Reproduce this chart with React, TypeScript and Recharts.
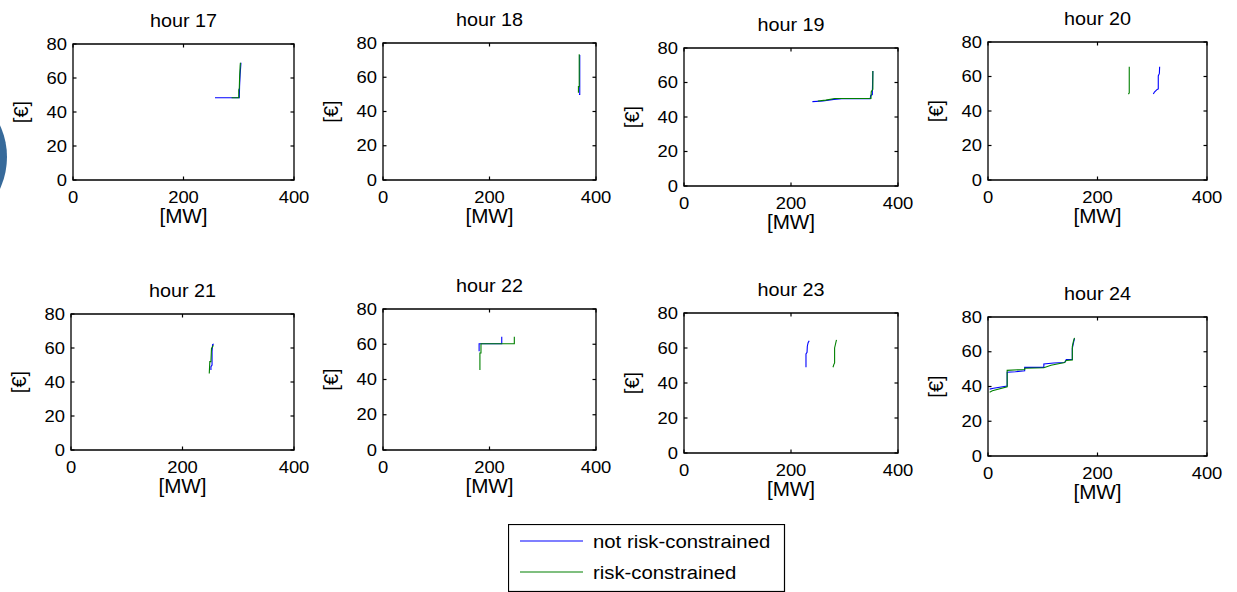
import React from 'react';
import { LineChart, Line, XAxis, YAxis, ReferenceArea } from 'recharts';

const FONT = '"Liberation Sans", Arial, Helvetica, sans-serif';

// ---------- data ----------
const hourTitles = ['hour 17', 'hour 18', 'hour 19', 'hour 20', 'hour 21', 'hour 22', 'hour 23', 'hour 24'];
const xTicks = [0, 200, 400];
const yTicks = [0, 20, 40, 60, 80];
const xLabel = '[MW]';
const yLabel = '[€]';
const seriesNames = ['not risk-constrained', 'risk-constrained'];

type Pt = { q: number; p: number };

const h17NotRisk: Pt[] = [
  { q: 257, p: 48.4 }, { q: 301, p: 48.4 }, { q: 301.5, p: 55 }, { q: 302.5, p: 62 }, { q: 304, p: 69 },
];
const h17Risk: Pt[] = [
  { q: 287, p: 48.4 }, { q: 300, p: 48.4 }, { q: 300, p: 53 }, { q: 301, p: 54 }, { q: 301.5, p: 60 }, { q: 302.5, p: 67 }, { q: 303, p: 69 },
];

const h18NotRisk: Pt[] = [
  { q: 368, p: 50 }, { q: 369.5, p: 50 }, { q: 369.5, p: 56 }, { q: 369.5, p: 73 },
];
const h18Risk: Pt[] = [
  { q: 367, p: 51 }, { q: 367, p: 54.5 }, { q: 368.5, p: 54.5 }, { q: 368.5, p: 73.5 },
];

const h19NotRisk: Pt[] = [
  { q: 240, p: 48.9 }, { q: 260, p: 49.3 }, { q: 280, p: 50.2 }, { q: 295, p: 50.6 }, { q: 348, p: 50.6 },
  { q: 349, p: 52.5 }, { q: 352, p: 53 }, { q: 352.5, p: 60 }, { q: 353, p: 66.7 },
];
const h19Risk: Pt[] = [
  { q: 250, p: 49.3 }, { q: 265, p: 49.8 }, { q: 282, p: 50.7 }, { q: 349.5, p: 50.7 }, { q: 350, p: 54.7 },
  { q: 353, p: 56 }, { q: 353, p: 66.7 },
];

const h20NotRisk: Pt[] = [
  { q: 302, p: 49.9 }, { q: 304, p: 51 }, { q: 309, p: 52.5 }, { q: 311, p: 52.8 }, { q: 311, p: 60.3 },
  { q: 313, p: 61.8 }, { q: 313.5, p: 65.7 },
];
const h20Risk: Pt[] = [
  { q: 256.5, p: 49.8 }, { q: 258, p: 50.5 }, { q: 258, p: 65.7 },
];

const h21NotRisk: Pt[] = [
  { q: 251, p: 47 }, { q: 251, p: 49 }, { q: 253, p: 50 }, { q: 253, p: 58 }, { q: 254, p: 62 }, { q: 256, p: 62.4 },
];
const h21Risk: Pt[] = [
  { q: 248, p: 45 }, { q: 249, p: 52 }, { q: 251, p: 52 }, { q: 252, p: 59.8 }, { q: 255, p: 61.3 }, { q: 255.5, p: 61.5 },
];

const h22NotRisk: Pt[] = [
  { q: 180.5, p: 56 }, { q: 180.5, p: 60.3 }, { q: 223, p: 60.3 }, { q: 223, p: 64.3 },
];
const h22Risk: Pt[] = [
  { q: 182, p: 45.4 }, { q: 182, p: 55 }, { q: 184, p: 55 }, { q: 184, p: 60.3 }, { q: 246.6, p: 60.3 }, { q: 246.6, p: 64.3 },
];

const h23NotRisk: Pt[] = [
  { q: 228, p: 49 }, { q: 228, p: 56.6 }, { q: 230, p: 57.5 }, { q: 230.5, p: 61 }, { q: 232, p: 63 }, { q: 234, p: 64.2 },
];
const h23Risk: Pt[] = [
  { q: 278.5, p: 49 }, { q: 280, p: 50.5 }, { q: 281.5, p: 51.5 }, { q: 281.5, p: 60 }, { q: 283, p: 62 }, { q: 285, p: 64.6 },
];

const h24NotRisk: Pt[] = [
  { q: 3, p: 38.5 }, { q: 10, p: 39 }, { q: 35, p: 40.3 }, { q: 35, p: 48.2 }, { q: 50, p: 48.5 }, { q: 67, p: 49 },
  { q: 67, p: 51 }, { q: 102, p: 51 }, { q: 102, p: 53 }, { q: 120, p: 53.5 }, { q: 140, p: 53.8 }, { q: 143, p: 55.5 },
  { q: 154, p: 55.6 }, { q: 154, p: 62 }, { q: 156, p: 65 }, { q: 158, p: 67.7 },
];
const h24Risk: Pt[] = [
  { q: 3, p: 36.7 }, { q: 8, p: 37.5 }, { q: 35, p: 39.8 }, { q: 35, p: 49.3 }, { q: 67, p: 49.8 }, { q: 67, p: 50.5 },
  { q: 102, p: 50.8 }, { q: 115, p: 52.2 }, { q: 140, p: 53.8 }, { q: 143, p: 55 }, { q: 154, p: 55.3 }, { q: 154, p: 63 },
  { q: 156, p: 66 }, { q: 158, p: 68 },
];

const notRiskSeries = [h17NotRisk, h18NotRisk, h19NotRisk, h20NotRisk, h21NotRisk, h22NotRisk, h23NotRisk, h24NotRisk];
const riskSeries = [h17Risk, h18Risk, h19Risk, h20Risk, h21Risk, h22Risk, h23Risk, h24Risk];

// ---------- layout / style ----------
const BLUE = '#0000ff';
const GREEN = '#008000';

const panelBoxes = [
  { left: 73, top: 44, right: 294, bottom: 180 },
  { left: 383, top: 43, right: 596, bottom: 180 },
  { left: 684, top: 48, right: 898, bottom: 186 },
  { left: 988, top: 42, right: 1207, bottom: 180 },
  { left: 71, top: 314, right: 294, bottom: 450 },
  { left: 383, top: 309, right: 596, bottom: 450 },
  { left: 684, top: 313, right: 898, bottom: 453 },
  { left: 988, top: 317, right: 1207, bottom: 456 },
];

const L = 62;
const T = 34;
const R = 26;
const B = 52;
const TICK_LEN = 3.5;

// font sizes with horizontal stretch (the reference text is slightly wide)
const TICK_FS = 16;
const TICK_SX = 1.15;
const TITLE_FS = 18;
const TITLE_SX = 1.1;
const LABEL_FS = 19.5;
const LABEL_SX = 1.06;
const LEGEND_FS = 19;
const LEGEND_SX = 1.07;

function SText(props: {
  x: number;
  y: number;
  fs: number;
  sx?: number;
  anchor?: 'start' | 'middle' | 'end';
  rotate?: number;
  dy?: string;
  children: React.ReactNode;
}) {
  const { x, y, fs, sx = 1, anchor = 'middle', rotate = 0, dy = '0.355em', children } = props;
  return (
    <text
      transform={`translate(${x},${y}) rotate(${rotate}) scale(${sx},1)`}
      x={0}
      y={0}
      dy={dy}
      textAnchor={anchor}
      fontSize={fs}
      fill="#000"
      style={{ fontFamily: FONT }}
    >
      {children}
    </text>
  );
}

function Panel({ idx }: { idx: number }) {
  const box = panelBoxes[idx];
  const pw = box.right - box.left;
  const ph = box.bottom - box.top;
  const width = pw + L + R;
  const height = ph + T + B;

  const XTick = (props: any) => {
    const { x, y, payload } = props;
    return (
      <g>
        <line x1={x} y1={y} x2={x} y2={y - TICK_LEN} stroke="#000" strokeWidth={1.2} />
        <line x1={x} y1={y - ph} x2={x} y2={y - ph + TICK_LEN} stroke="#000" strokeWidth={1.2} />
        <SText x={x} y={y + 17} fs={TICK_FS} sx={TICK_SX}>
          {payload.value}
        </SText>
      </g>
    );
  };

  const YTick = (props: any) => {
    const { x, y, payload } = props;
    return (
      <g>
        <line x1={x} y1={y} x2={x + TICK_LEN} y2={y} stroke="#000" strokeWidth={1.2} />
        <line x1={x + pw} y1={y} x2={x + pw - TICK_LEN} y2={y} stroke="#000" strokeWidth={1.2} />
        <SText x={x - 6} y={y} fs={TICK_FS} sx={TICK_SX} anchor="end">
          {payload.value}
        </SText>
      </g>
    );
  };

  const xLabelContent = () => (
    <SText x={L + pw / 2} y={T + ph + 36} fs={LABEL_FS} sx={LABEL_SX}>
      {xLabel}
    </SText>
  );

  const yLabelContent = () => (
    <SText x={L - 51} y={T + ph / 2} fs={20} rotate={-90} dy="0.3em">
      {yLabel}
    </SText>
  );

  const titleContent = () => (
    <SText x={L + pw / 2} y={T - 23.5} fs={TITLE_FS} sx={TITLE_SX}>
      {hourTitles[idx]}
    </SText>
  );

  return (
    <div style={{ position: 'absolute', left: box.left - L, top: box.top - T }}>
      <LineChart width={width} height={height} margin={{ top: T, right: R, bottom: 0, left: 0 }}>
        <XAxis
          dataKey="q"
          type="number"
          domain={[0, 400]}
          ticks={xTicks}
          interval={0}
          allowDataOverflow
          tickLine={false}
          axisLine={false}
          tickSize={0}
          tickMargin={0}
          height={B}
          tick={XTick}
          label={{ content: xLabelContent }}
        />
        <YAxis
          type="number"
          domain={[0, 80]}
          ticks={yTicks}
          interval={0}
          allowDataOverflow
          tickLine={false}
          axisLine={false}
          tickSize={0}
          tickMargin={0}
          width={L}
          tick={YTick}
          label={{ content: yLabelContent }}
        />
        <ReferenceArea
          x1={0}
          x2={400}
          y1={0}
          y2={80}
          fill="none"
          fillOpacity={0}
          stroke="#000"
          strokeWidth={1.3}
          ifOverflow="visible"
          label={{ content: titleContent }}
        />
        <Line
          data={notRiskSeries[idx]}
          dataKey="p"
          name={seriesNames[0]}
          type="linear"
          stroke={BLUE}
          strokeWidth={1.1}
          dot={false}
          activeDot={false}
          isAnimationActive={false}
        />
        <Line
          data={riskSeries[idx]}
          dataKey="p"
          name={seriesNames[1]}
          type="linear"
          stroke={GREEN}
          strokeWidth={1.1}
          dot={false}
          activeDot={false}
          isAnimationActive={false}
        />
      </LineChart>
    </div>
  );
}

function LegendBox() {
  const colors = [BLUE, GREEN];
  return (
    <svg width={278} height={68} style={{ position: 'absolute', left: 508, top: 524 }}>
      <rect x={0.5} y={0.5} width={276} height={67} fill="#fff" stroke="#000" strokeWidth={1.2} />
      {seriesNames.map((n, i) => (
        <g key={n}>
          <line x1={12} x2={75} y1={17 + i * 31} y2={17 + i * 31} stroke={colors[i]} strokeWidth={1.1} />
          <SText x={85} y={17 + i * 31} fs={LEGEND_FS} sx={LEGEND_SX} anchor="start">
            {n}
          </SText>
        </g>
      ))}
    </svg>
  );
}

export default function App() {
  return (
    <div
      style={{
        position: 'absolute',
        left: 0,
        top: 0,
        width: 1237,
        height: 592,
        background: '#fff',
        overflow: 'hidden',
        fontFamily: FONT,
      }}
    >
      <div
        style={{
          position: 'absolute',
          left: -145,
          top: 81,
          width: 152,
          height: 152,
          borderRadius: '50%',
          background: '#376a9a',
        }}
      />
      {hourTitles.map((_, i) => (
        <Panel key={i} idx={i} />
      ))}
      <LegendBox />
    </div>
  );
}
